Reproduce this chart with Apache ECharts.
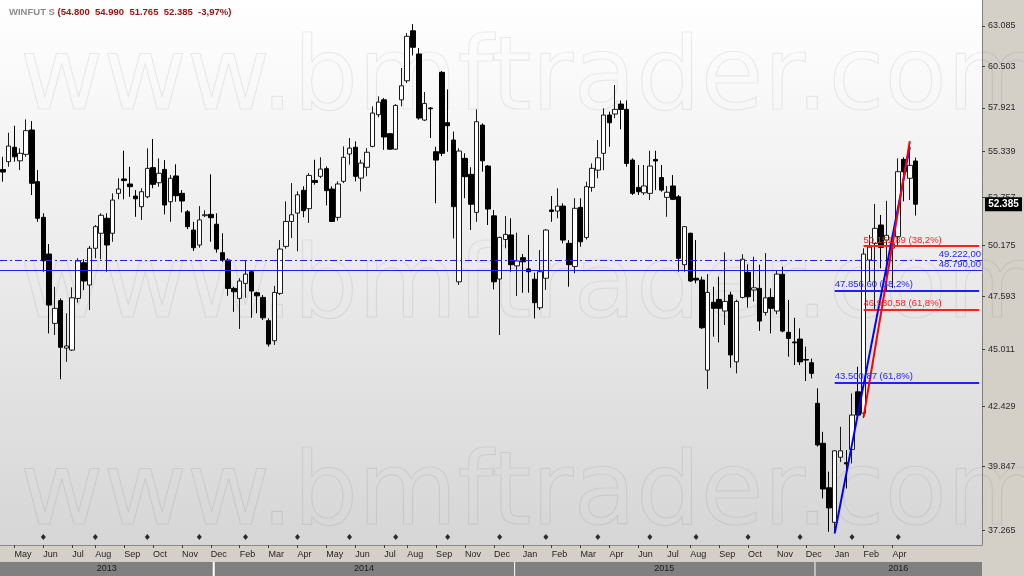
<!DOCTYPE html>
<html><head><meta charset="utf-8">
<script src="https://cdn.jsdelivr.net/npm/echarts@6/dist/echarts.min.js"></script>
<style>html,body{margin:0;padding:0;background:#fff}#c{width:1024px;height:576px}</style>
</head><body><div id="c"></div>
<script>
// ---------- DATA (weekly WINFUT, prices in thousands of points) ----------
const opens = [54.31,54.76,55.59,54.81,55.18,56.60,53.63,51.67,49.73,46.26,
47.37,45.08,44.99,47.48,49.28,48.15,50.03,50.82,51.62,50.82,
52.98,53.78,53.50,52.83,52.25,52.79,54.42,53.57,54.32,52.52,
53.95,52.98,51.97,50.99,50.20,51.76,51.83,51.30,49.80,49.42,
47.98,47.48,48.23,48.82,47.76,47.53,46.39,45.43,47.73,50.13,
51.45,51.90,53.15,52.14,53.70,53.93,54.36,53.22,51.67,53.65,
55.20,55.59,53.83,54.44,55.64,57.51,58.41,56.38,55.48,58.41,
59.58,62.77,61.27,57.19,57.91,55.33,60.11,57.03,56.01,48.31,
54.95,54.04,51.94,56.89,54.51,51.75,48.45,50.49,50.73,49.12,
49.54,48.96,48.44,47.02,48.49,52.07,52.01,52.28,50.29,49.09,
52.21,50.60,53.31,54.28,55.24,57.49,57.55,58.15,57.83,54.85,
53.31,53.01,52.98,54.89,53.86,52.76,53.39,52.79,49.18,50.82,
48.49,48.40,44.06,47.29,47.43,46.86,47.65,44.44,47.53,48.79,
47.90,47.98,46.79,47.53,46.86,48.69,45.83,45.37,45.51,44.55,
44.40,42.56,40.82,38.97,37.59,40.23,40.00,40.56,43.07,42.12,
49.42,50.29,51.26,50.46,50.04,50.64,54.89,53.82,54.80];
const highs = [55.04,56.44,56.85,55.53,57.23,57.13,54.28,51.89,50.25,48.06,
47.48,46.75,48.03,49.51,49.46,50.15,51.26,51.89,51.89,52.98,
53.82,55.39,54.47,53.16,53.26,55.53,56.07,54.95,54.85,54.00,
54.61,53.16,52.07,51.43,52.28,52.05,54.04,51.89,50.82,49.51,
48.06,48.49,49.37,48.91,47.81,47.65,46.50,48.11,50.46,52.54,
53.55,53.09,53.37,54.11,54.87,55.01,54.49,53.37,53.65,55.64,
56.13,55.93,54.87,55.54,58.01,58.62,58.52,56.42,58.15,60.38,
62.62,63.21,61.65,58.89,57.97,55.62,60.19,59.05,56.50,55.53,
55.24,54.44,57.83,56.99,54.57,52.07,50.64,51.74,51.62,50.85,
49.73,50.73,48.77,49.94,51.04,52.83,53.26,52.43,50.46,52.71,
52.71,53.63,54.66,56.01,57.89,57.69,59.32,58.37,58.37,54.95,
54.57,54.57,55.39,55.39,54.57,53.39,54.00,52.89,51.20,50.85,
50.46,48.57,48.70,48.06,48.57,49.82,47.81,47.42,49.72,49.20,
49.59,49.18,49.78,47.98,48.91,49.08,47.41,46.53,46.02,45.15,
44.59,43.23,41.31,39.63,40.53,41.53,40.53,43.00,44.21,50.03,
50.73,52.40,51.80,52.57,50.64,54.95,55.01,55.82,54.99];
const lows = [53.63,54.47,54.76,54.28,55.04,52.89,51.43,48.82,45.78,45.70,
43.64,44.44,44.95,47.27,47.90,46.91,49.51,49.46,48.82,50.37,
52.65,52.65,52.79,51.70,51.53,52.71,53.26,53.35,51.83,51.43,
52.52,51.94,51.04,49.89,50.06,51.69,50.37,49.80,49.33,47.61,
46.82,45.99,47.51,46.53,46.75,46.42,45.15,45.23,47.65,50.01,
50.57,49.87,51.67,51.37,53.46,53.83,52.32,51.42,51.49,53.55,
54.59,53.65,53.09,53.93,55.59,57.35,55.44,55.44,55.44,58.01,
59.44,61.18,57.21,57.13,56.13,52.43,55.08,55.33,50.55,48.15,
52.71,50.99,51.43,54.19,51.26,47.93,45.70,50.03,48.82,47.60,
47.76,47.76,46.50,46.91,47.90,51.43,51.62,50.29,48.06,48.74,
50.11,50.49,53.07,53.82,54.28,55.62,57.31,56.64,54.47,52.89,
52.89,52.89,52.61,53.16,53.07,51.70,52.61,48.82,48.82,48.31,
48.23,45.99,43.20,45.62,45.35,46.18,44.17,43.91,47.48,47.03,
47.33,45.90,46.64,45.78,46.70,45.83,44.68,44.29,44.29,43.56,
43.68,40.68,38.54,37.22,37.16,40.03,38.94,39.97,41.97,41.91,
48.31,46.91,48.99,47.81,47.99,50.11,52.54,52.61,51.765];
const closes = [54.17,55.66,55.04,55.24,56.56,53.54,51.62,49.38,47.15,46.99,
45.12,45.18,47.51,49.37,48.35,50.03,51.17,51.78,50.20,52.61,
53.22,53.69,53.35,52.68,53.07,54.38,53.48,54.10,52.34,53.82,
52.85,52.56,51.17,50.06,51.53,51.81,51.65,49.99,49.42,47.98,
47.81,48.35,48.70,47.85,47.61,46.53,45.27,47.78,49.99,51.45,
51.81,52.90,52.03,53.98,53.59,54.34,53.13,51.45,53.50,55.01,
55.54,53.93,54.68,55.30,57.61,58.27,56.19,55.48,58.07,59.27,
62.41,61.70,57.31,58.19,57.87,54.85,55.24,56.85,52.25,55.37,
53.91,52.38,57.09,54.81,52.12,48.31,50.60,50.76,49.18,49.37,
49.33,48.82,47.27,48.82,50.99,51.99,52.28,50.46,49.18,52.16,
50.37,53.35,54.38,54.98,57.49,57.03,57.83,57.83,54.66,52.98,
53.07,53.39,54.51,54.80,53.16,53.04,52.65,49.51,51.17,48.35,
48.40,46.05,47.78,46.99,46.99,47.33,44.76,47.33,49.46,47.56,
48.01,46.37,47.51,46.99,48.70,45.89,45.54,45.33,44.44,44.52,
43.91,40.75,38.92,38.16,40.50,40.50,39.95,42.04,42.04,49.73,
50.09,51.08,50.08,50.71,50.25,54.19,54.19,54.55,52.385];

// weekly categories (Mondays), axis has room for 170 weeks
const N_BARS = 170;
const firstWeek = Date.UTC(2013, 3, 22);
const categories = [];
for (let i = 0; i < N_BARS; i++) categories.push(new Date(firstWeek + i * 7 * 86400000).toISOString().slice(0, 10));
const monthNames = ['Jan','Feb','Mar','Apr','May','Jun','Jul','Aug','Sep','Oct','Nov','Dec'];
const tickBars = [2,7,12,16,21,26,31,36,41,46,51,56,61,66,70,75,80,85,90,95,100,105,110,115,119,124,129,134,139,144,149,154];
const yTicks = [37.265,39.847,42.429,45.011,47.593,50.175,52.757,55.339,57.921,60.503,63.085];
const yRange = [36.711, 64.82];
const expiryBars = [7,16,25,34,42,51,60,68,77,86,94,103,112,120,129,138,147,155];
const expiryLevel = 37.02;
// horizontal levels
const levelDashDot = 49.222;
const levelSolid = 48.790;
const blueFibStart = 144, blueFibLevels = [47.8566, 43.50087], blueFibPct = ['38,2%', '61,8%'];
const redFibStart = 149, redFibLevels = [50.15189, 46.93058], redFibPct = ['38,2%', '61,8%'];
// trend lines [bar, price]
const blueTrend = [[144, 37.16], [157, 55.60]];
const redTrend = [[149, 41.95], [157, 55.95]];

// ---------- HELPERS ----------
const L = Math.log;
function fmtBR(v) { // 47.8566 -> "47.856,60"
  const s = (v * 1000).toFixed(2); const [ip, dp] = s.split('.');
  return ip.slice(0, ip.length - 3) + '.' + ip.slice(-3) + ',' + dp;
}
const tickSet = new Set(tickBars);
const FONT = 'Liberation Sans';
const BLUE = '#1f1fff', RED = '#ff1f1f';

const candleData = opens.map((o, i) => [L(o), L(closes[i]), L(lows[i]), L(highs[i])]);
const last = opens.length - 1;
const pct = (closes[last] / closes[last - 1] - 1) * 100;
const titleNums = [opens[last], highs[last], lows[last], closes[last]].map(v => v.toFixed(3)).join('  ');
const titleText = '{g|WINFUT S }{r|(' + titleNums + '  ' + pct.toFixed(2).replace('.', ',') + '%)}';

const markLines = [];
markLines.push({ yAxis: L(levelDashDot), lineStyle: { color: BLUE, width: 1, type: [7, 3, 2, 3] },
  label: { show: true, position: 'insideEndTop', formatter: fmtBR(levelDashDot), color: BLUE, fontSize: 9.5, fontFamily: FONT, distance: [1, 1] } });
markLines.push({ yAxis: L(levelSolid), lineStyle: { color: BLUE, width: 1, type: 'solid' },
  label: { show: true, position: 'insideEndTop', formatter: fmtBR(levelSolid), color: BLUE, fontSize: 9.5, fontFamily: FONT, distance: [1, 1] } });
function fibPairs(start, levels, pcts, color) {
  levels.forEach((v, k) => {
    markLines.push([{ coord: [start, L(v)], lineStyle: { color: color, width: 2, type: 'solid' },
      label: { show: true, position: 'insideStartTop', formatter: fmtBR(v) + ' (' + pcts[k] + ')', color: color, fontSize: 9.5, fontFamily: FONT, distance: [0, 1] } },
      { coord: [N_BARS - 1, L(v)] }]);
  });
}
fibPairs(blueFibStart, blueFibLevels, blueFibPct, BLUE);
fibPairs(redFibStart, redFibLevels, redFibPct, RED);
markLines.push([{ coord: [blueTrend[0][0], L(blueTrend[0][1])], lineStyle: { color: '#0000ff', width: 2, type: 'solid' }, label: { show: false } },
  { coord: [blueTrend[1][0], L(blueTrend[1][1])] }]);
markLines.push([{ coord: [redTrend[0][0], L(redTrend[0][1])], lineStyle: { color: '#ff0000', width: 2, type: 'solid' }, label: { show: false } },
  { coord: [redTrend[1][0], L(redTrend[1][1])] }]);

const chart = echarts.init(document.getElementById('c'), null, { renderer: 'canvas' });
const watermark = ['www.bmftrader.com', 'www.bmftrader.com', 'www.bmftrader.com'];
const wmY = [82, 290, 497];
const option = {
  animation: false,
  backgroundColor: '#ffffff',
  title: { text: titleText, left: 4, top: 2, z: 20,
    textStyle: { rich: { g: { color: '#8c8c8c', fontSize: 9.5, fontFamily: FONT }, r: { color: '#9c0f0f', fontSize: 9.5, fontFamily: FONT } } } },
  grid: { left: 0, right: 42, top: 0, bottom: 31, show: true, borderWidth: 0,
    backgroundColor: { type: 'linear', x: 0, y: 0, x2: 0, y2: 1, colorStops: [{ offset: 0, color: '#ffffff' }, { offset: 1, color: '#d6d6d6' }] } },
  xAxis: {
    type: 'category', data: categories, boundaryGap: true, z: 5,
    axisLine: { show: true, lineStyle: { color: '#8a8a8a', width: 1 } },
    axisTick: { show: true, alignWithLabel: true, interval: (i) => tickSet.has(i), length: 3, lineStyle: { color: '#404040' } },
    axisLabel: { interval: (i) => tickSet.has(i), formatter: (v) => monthNames[new Date(v + 'T00:00:00Z').getUTCMonth()],
      align: 'left', margin: 5, fontSize: 9, fontFamily: FONT, color: '#1e1e1e' },
    splitLine: { show: false }
  },
  yAxis: {
    type: 'value', position: 'right', min: L(yRange[0]), max: L(yRange[1]), z: 5,
    axisLine: { show: true, lineStyle: { color: '#808080' } },
    axisTick: { show: true, length: 3, customValues: yTicks.map(L), lineStyle: { color: '#404040' } },
    axisLabel: { customValues: yTicks.map(L), formatter: (v) => Math.exp(v).toFixed(3), color: '#2a2a2a', fontSize: 9, fontFamily: FONT, margin: 6 },
    splitLine: { show: false }
  },
  graphic: [
    { type: 'rect', z: 1, shape: { x: 982, y: 0, width: 42, height: 576 }, style: { fill: '#d4d0c8' } },
    { type: 'rect', z: 1, shape: { x: 0, y: 545, width: 982, height: 17 }, style: { fill: '#d4d0c8' } },
  ].concat(watermark.map((t, k) => ({ type: 'text', z: 1, silent: true,
    style: { text: t, x: 20, y: wmY[k], font: '102px "DejaVu Sans"', fill: 'rgba(0,0,0,0)', stroke: 'rgba(0,0,0,0.07)', lineWidth: 1.2, verticalAlign: 'middle' } }))),
  series: [
    { type: 'candlestick', data: candleData, barWidth: 5, z: 3,
      itemStyle: { color: '#ffffff', color0: '#000000', borderColor: '#1a1a1a', borderColor0: '#000000', borderWidth: 1 },
      markLine: { silent: true, symbol: ['none', 'none'], animation: false, data: markLines } },
    { type: 'scatter', data: expiryBars.map(b => [b, L(expiryLevel)]), symbol: 'diamond', symbolSize: [5, 6], z: 4,
      itemStyle: { color: '#000000' }, silent: true }
  ]
};
chart.setOption(option);

// chrome computed through the axes: year band and last-price tag
const px = (b, p) => chart.convertToPixel({ xAxisIndex: 0, yAxisIndex: 0 }, [b, L(p)]);
const band = px(1, 50)[0] - px(0, 50)[0];
const yearStarts = [];
categories.forEach((c, i) => { if (i === 0 || c.slice(0, 4) !== categories[i - 1].slice(0, 4)) yearStarts.push(i); });
const gridRight = 982;
const extra = [];
yearStarts.forEach((b, k) => {
  const x0 = k === 0 ? 0 : px(b, 50)[0] - band / 2;
  const x1 = k === yearStarts.length - 1 ? gridRight : px(yearStarts[k + 1], 50)[0] - band / 2;
  extra.push({ type: 'rect', z: 2, shape: { x: x0 + (k ? 1 : 0), y: 562, width: x1 - x0 - 1, height: 14 }, style: { fill: '#808080' } });
  extra.push({ type: 'text', z: 3, style: { text: categories[b].slice(0, 4), x: (x0 + x1) / 2, y: 569, align: 'center', verticalAlign: 'middle', font: '9px "Liberation Sans"', fill: '#1a1a1a' } });
});
const tagY = px(last, closes[last])[1];
extra.push({ type: 'rect', z: 8, shape: { x: 985, y: tagY - 7, width: 37, height: 14 }, style: { fill: '#000000' } });
extra.push({ type: 'text', z: 9, style: { text: closes[last].toFixed(3), x: 1003.5, y: tagY, align: 'center', verticalAlign: 'middle', font: 'bold 10px "Liberation Sans"', fill: '#ffffff' } });
chart.setOption({ graphic: option.graphic.concat(extra) }, { replaceMerge: ['graphic'] });
</script></body></html>
